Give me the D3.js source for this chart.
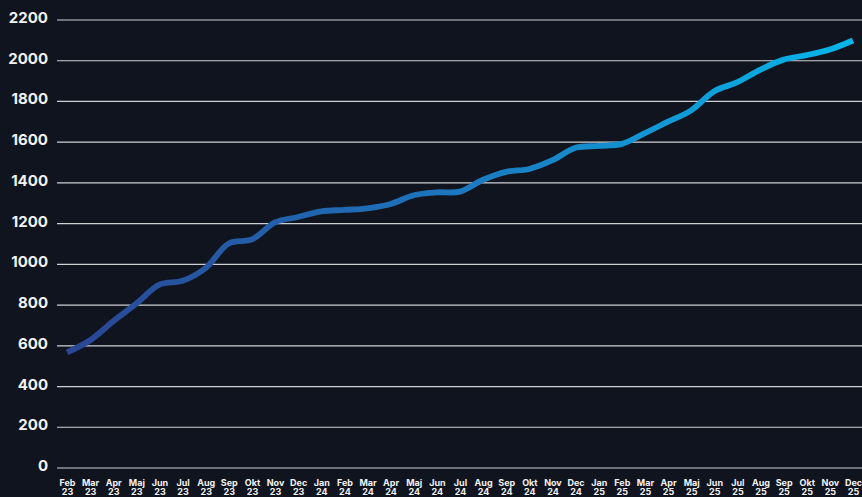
<!DOCTYPE html>
<html>
<head>
<meta charset="utf-8">
<script src="https://cdn.jsdelivr.net/npm/d3@7"></script>
<style>
  html, body { margin: 0; padding: 0; background: #10141f; }
  svg { display: block; }
</style>
</head>
<body>
<div id="chart"></div>
<script>
const months = ['Feb', 'Mar', 'Apr', 'Maj', 'Jun', 'Jul', 'Aug', 'Sep', 'Okt', 'Nov', 'Dec',
    'Jan', 'Feb', 'Mar', 'Apr', 'Maj', 'Jun', 'Jul', 'Aug', 'Sep', 'Okt', 'Nov', 'Dec',
    'Jan', 'Feb', 'Mar', 'Apr', 'Maj', 'Jun', 'Jul', 'Aug', 'Sep', 'Okt', 'Nov', 'Dec'];
const years = ['23', '23', '23', '23', '23', '23', '23', '23', '23', '23', '23',
    '24', '24', '24', '24', '24', '24', '24', '24', '24', '24', '24', '24',
    '25', '25', '25', '25', '25', '25', '25', '25', '25', '25', '25', '25'];
const values = [565, 625, 718, 805, 898, 917, 980, 1100, 1120, 1204, 1230,
    1258, 1265, 1273, 1294, 1337, 1351, 1355, 1413, 1452, 1466, 1509, 1570,
    1579, 1589, 1642, 1698, 1754, 1848, 1892, 1954, 2003, 2025, 2053, 2097];
const yTicks = [0, 200, 400, 600, 800, 1000, 1200, 1400, 1600, 1800, 2000, 2200];

const width = 862;
const height = 497;

const svg = d3.select('#chart').append('svg').attr('width', width).attr('height', height);

svg.append('rect').attr('width', width).attr('height', height).attr('fill', '#10141f');

const keys = months.map((m, i) => i);

const xScale = d3.scalePoint().domain(keys).range([67, 853]);
const yScale = d3.scaleLinear().domain([0, 2200]).range([467.5, 19.5]);

// horizontal grid + y labels
const yAxis = svg.append('g').attr('transform', 'translate(57,0)')
    .call(d3.axisLeft(yScale).tickValues(yTicks).tickSize(-(width - 57)).tickPadding(9).tickFormat(d3.format('d')));
yAxis.select('.domain').remove();
yAxis.selectAll('.tick line').attr('stroke', '#cfd0d4').attr('stroke-width', 1.2);
yAxis.selectAll('.tick text')
    .attr('fill', '#f2f2f2')
    .attr('dy', '0.2em')
    .style('font-family', 'Inter, "Liberation Sans", sans-serif')
    .style('font-weight', '700')
    .style('font-size', '15px');

// x labels, two lines: month and year
const xAxis = svg.append('g').attr('transform', 'translate(0,467.5)')
    .call(d3.axisBottom(xScale).tickSize(0).tickFormat(''));
xAxis.select('.domain').remove();
xAxis.selectAll('.tick text').remove();
const ticks = xAxis.selectAll('.tick');
const labelStyle = (sel) => sel
    .attr('fill', '#f2f2f2')
    .attr('text-anchor', 'middle')
    .style('font-family', 'Inter, "Liberation Sans", sans-serif')
    .style('font-weight', '700')
    .style('font-size', '9px');
ticks.append('text').call(labelStyle).attr('y', 18).text((d) => months[d]);
ticks.append('text').call(labelStyle).attr('y', 27.5).text((d) => years[d]);

// line gradient
const grad = svg.append('defs').append('linearGradient')
    .attr('id', 'lineGrad')
    .attr('gradientUnits', 'userSpaceOnUse')
    .attr('x1', xScale(0)).attr('x2', xScale(keys.length - 1))
    .attr('y1', 0).attr('y2', 0);
grad.append('stop').attr('offset', '0%').attr('stop-color', '#2a4594');
grad.append('stop').attr('offset', '50%').attr('stop-color', '#1c78bf');
grad.append('stop').attr('offset', '100%').attr('stop-color', '#06b6e8');

const line = d3.line()
    .x((d, i) => xScale(i))
    .y((d) => yScale(d))
    .curve(d3.curveCatmullRom.alpha(0.5));

svg.append('path')
    .datum(values)
    .attr('d', line)
    .attr('fill', 'none')
    .attr('stroke', 'url(#lineGrad)')
    .attr('stroke-width', 5.8);
</script>
</body>
</html>
